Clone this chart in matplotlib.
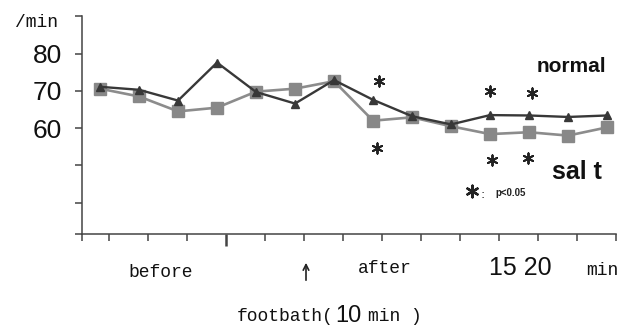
import matplotlib.pyplot as plt

# heart rate (/min), 14 measurement points before / after the footbath
normal = [71.1, 70.3, 67.4, 77.6, 69.7, 66.6, 72.9, 67.6, 63.2, 61.0, 63.5, 63.4, 63.0, 63.4]
salt = [70.6, 68.5, 64.5, 65.5, 69.8, 70.6, 72.6, 62.0, 62.9, 60.5, 58.4, 58.9, 58.0, 60.2]
points = list(range(len(normal)))

# significance marks (point index, value)
sig_x = [7.15, 7.1, 10.0, 11.08, 10.05, 10.97]
sig_y = [72.7, 54.7, 69.9, 69.4, 51.4, 52.0]

y_labels = {60: '60', 70: '70', 80: '80'}

W, H = 632, 327
mono = ['Liberation Mono', 'DejaVu Sans Mono']
narrow = ['Liberation Sans Narrow', 'Liberation Sans', 'DejaVu Sans']


def px(x, y):
    return x / W, 1 - y / H


fig = plt.figure(figsize=(W / 100, H / 100), dpi=100)
ax = fig.add_axes([0.1293, 0.2859, 0.8454, 0.665])

ax.plot(points, normal, color='#383838', lw=1.7, marker='^', ms=6,
        mfc='#383838', mec='#383838', zorder=3)
ax.plot(points, salt, color='#8c8c8c', lw=1.9, marker='s', ms=9,
        mfc='#888888', mec='#888888', zorder=2)

ax.scatter(sig_x, sig_y, marker=(6, 2, 0), s=55, color='#222222', lw=1.4, zorder=4)
# legend mark
ax.scatter([9.54], [43.0], marker=(6, 2, 0), s=70, color='#222222', lw=1.7, zorder=4)

xmin, xmax = -0.47, 13.23
ymin, ymax = 31.7, 90.1
ax.set_xlim(xmin, xmax)
ax.set_ylim(ymin, ymax)

ax.set_xticks([xmin] + [i + 0.23 for i in points])
ax.set_xticklabels([])
yt = [ymin, 40, 50, 60, 70, 80, 90]
ax.set_yticks(yt)
ax.set_yticklabels([y_labels.get(v, '') for v in yt], fontsize=19, family=narrow)
ax.tick_params(axis='both', direction='out', length=5, width=1.1, colors='#444444')
ax.tick_params(axis='y', pad=9, labelcolor='#111111')
for s in ['top', 'right']:
    ax.spines[s].set_visible(False)
for s in ['left', 'bottom']:
    ax.spines[s].set_color('#444444')
    ax.spines[s].set_linewidth(1.1)

# the heavier tick where the footbath starts
t = ax.xaxis.get_major_ticks()[4].tick1line
t.set_markersize(8.5)
t.set_markeredgewidth(1.8)
t.set_color('#111111')

txt = '#111111'
fig.text(*px(15, 27), '/min', fontsize=13, family=mono, color=txt, va='baseline')

fig.text(*px(571, 72), 'normal', fontsize=15, fontweight='bold', family=['Liberation Sans'],
         color=txt, ha='center', va='baseline')
fig.text(*px(577, 179), 'sal t', fontsize=18, fontweight='bold', family=['Liberation Sans'],
         color=txt, ha='center', va='baseline')
fig.text(*px(483, 194), ':', fontsize=9, color='#222222', ha='center', va='center')
fig.text(*px(495, 196), 'p<0.05', fontsize=7, fontweight='bold', family=['Liberation Sans'],
         color='#222222', va='baseline')

fig.text(*px(161, 277), 'before', fontsize=13, family=mono, color=txt, ha='center', va='baseline')
fig.text(*px(385, 273), 'after', fontsize=13, family=mono, color=txt, ha='center', va='baseline')
fig.text(*px(520, 275), '15 20', fontsize=18, family=narrow, color=txt, ha='center', va='baseline')
fig.text(*px(602, 275), 'min', fontsize=13, family=mono, color=txt, ha='center', va='baseline')
ax.annotate('', xy=px(306, 260), xytext=px(306, 283), xycoords='figure fraction',
            textcoords='figure fraction',
            arrowprops=dict(arrowstyle='->', lw=1.2, color='#222222'))

fig.text(*px(237, 321), 'footbath(', fontsize=13, family=mono, color=txt, va='baseline')
fig.text(*px(335, 322), '10', fontsize=17, family=narrow, color=txt, va='baseline')
fig.text(*px(368, 321), 'min )', fontsize=13, family=mono, color=txt, va='baseline')

fig.savefig('out.png', dpi=100)
